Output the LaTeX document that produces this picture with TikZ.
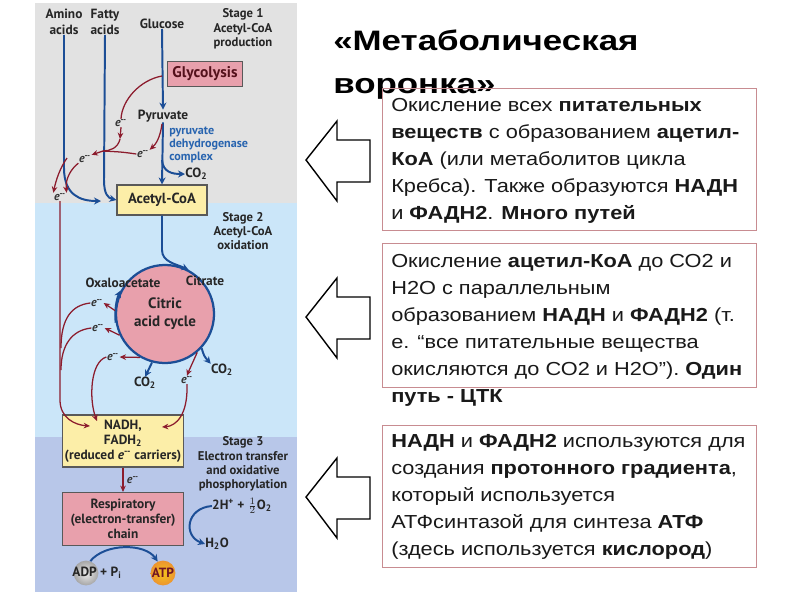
\documentclass[tikz,border=0pt]{standalone}
\usepackage{fontspec}
\setmainfont{Liberation Sans}
\newfontfamily\rfont[FakeStretch=1.155]{Liberation Sans}
\newfontfamily\tfont[FakeStretch=1.24]{Liberation Sans}
\newfontfamily\pfont{PT Sans}
\usetikzlibrary{arrows.meta,shadings}
\definecolor{stgray}{RGB}{226,226,226}
\definecolor{stblue}{RGB}{203,230,249}
\definecolor{stlav}{RGB}{184,199,233}
\definecolor{arblue}{RGB}{28,78,150}
\definecolor{arred}{RGB}{140,28,45}
\definecolor{boxpink}{RGB}{232,160,172}
\definecolor{boxyel}{RGB}{252,238,168}
\definecolor{txblue}{RGB}{40,100,175}
\definecolor{framered}{RGB}{200,140,145}
\definecolor{atporange}{RGB}{236,148,48}
\newcommand{\elec}{\textit{e}\textsuperscript{--}}
\begin{document}
\begin{tikzpicture}[x=0.025cm, y=-0.025cm,
    pnl/.style={font=\pfont\bfseries\fontsize{9.5}{11}\selectfont, text=black!85, align=center, inner sep=0pt},
    stg/.style={font=\pfont\bfseries\fontsize{9}{10.2}\selectfont, text=black!85, align=center, inner sep=0pt},
    elab/.style={font=\pfont\bfseries\fontsize{8.5}{9}\selectfont, text=black!80, inner sep=0.3pt},
    pbox/.style={draw=black!65, line width=0.8pt, fill=boxpink, align=center, inner sep=0pt, text=black!85,
                 font=\pfont\bfseries\fontsize{9.5}{10.8}\selectfont},
    ybox/.style={pbox, fill=boxyel},
    bl/.style={draw=arblue, line width=1.4pt, -{Stealth[length=5pt,width=5pt]}},
    rd/.style={draw=arred, line width=0.9pt, -{Stealth[length=4.5pt,width=4pt]}},
    hollow/.style={draw=black, line width=1pt, fill=white},
    infobox/.style={draw=framered, line width=0.6pt},
    rtext/.style={font=\rfont\fontsize{13.4}{19.2}\selectfont, align=left, inner sep=0pt, anchor=north west, text=black!90},
]
  \useasboundingbox (0,0) rectangle (800,600);
  \fill[white] (0,0) rectangle (800,600);

  % stage bands
  \fill[stgray] (35,3)   rectangle (297,203);
  \fill[stblue] (35,203) rectangle (297,437);
  \fill[stlav]  (35,437) rectangle (297,592);

  % stage 1
  \node[pnl] (amino)   at (64,22)  {Amino\\acids};
  \node[pnl] (fatty)   at (105,22) {Fatty\\acids};
  \node[pnl] (glucose) at (162,24) {Glucose};
  \node[stg] (stage1)  at (243,29) {Stage 1\\Acetyl-CoA\\production};
  \node[pbox, minimum width=1.875cm, minimum height=0.625cm, font=\pfont\bfseries\fontsize{11}{12}\selectfont,
        text=arred!60!black] (glyco) at (205,74) {Glycolysis};
  \node[pnl] (pyruvate) at (163,116) {Pyruvate};
  \node[pnl, anchor=west, align=left, text=txblue, font=\pfont\bfseries\fontsize{8.6}{9.3}\selectfont]
       (pdh) at (169,145) {pyruvate\\dehydrogenase\\complex};
  \node[pnl, anchor=west] (co2a) at (185,174) {CO\textsubscript{2}};
  \node[ybox, minimum width=2.25cm, minimum height=0.75cm, font=\pfont\bfseries\fontsize{10.4}{12}\selectfont]
       (acetyl) at (162,200) {Acetyl-CoA};

  \coordinate (g1) at (162,76);
  \coordinate (p1) at (162,124);
  \coordinate (p2) at (162,160);
  \coordinate (j1) at (103,151);
  \coordinate (a1) at (67,158);
  \coordinate (c1) at (101,201);
  \coordinate (e1t) at (120,139);

  \draw[bl] (amino.south) -- (64,168) .. controls (64,195) and (80,201) .. (c1);
  \draw[bl] (fatty.south) -- (104,180) .. controls (104,194) and (108,198) .. (acetyl.west);
  \draw[bl] (glucose.south) -- (pyruvate.north);
  \draw[bl] (pyruvate.south) -- (acetyl.north);
  \draw[bl] (p2) .. controls (163,172) and (172,174) .. (co2a.west);

  \node[elab] (e1) at (121,123) {\elec};
  \node[elab] (e2) at (143,154) {\elec};
  \node[elab] (e3) at (85,159)  {\elec};
  \node[elab] (e4) at (60,197)  {\elec};

  \draw[rd, -] (g1) .. controls (140,80) and (122,100) .. (e1.north);
  \draw[rd] (e1.south) -- (e1t);
  \draw[rd, -] (e1t) .. controls (118,148) and (110,151) .. (j1);
  \draw[rd] (p1) .. controls (160,138) and (156,144) .. (e2.north east);
  \draw[rd, -] (e2.west) .. controls (122,152) .. (j1);
  \draw[rd] (j1) -- (e3.north east);
  \draw[rd] (e3.south west) .. controls (72,168) and (65,178) .. (e4.north east);
  \draw[rd] (a1) .. controls (60,168) and (56,180) .. (e4.north west);

  % stage 2
  \node[stg] (stage2) at (243,231) {Stage 2\\Acetyl-CoA\\oxidation};
  \node[ybox, minimum width=3.025cm, minimum height=1.3cm] (nadh) at (123,441)
       {NADH,\\FADH\textsubscript{2}\\(reduced \elec{} carriers)};
  \node[circle, draw=arblue, line width=1.6pt, fill=boxpink, minimum size=2.45cm, inner sep=0pt, align=center,
        text=black!85, font=\pfont\bfseries\fontsize{10.7}{13}\selectfont] (cac) at (165,314) {Citric\\acid cycle};
  \node[pnl] (oxalo) at (123,283) {Oxaloacetate};
  \node[pnl] (citrate) at (205,281) {Citrate};

  \draw[bl] (acetyl.south) -- (162,250) .. controls (162,262) and (176,264) .. (cac.62);
  \draw[bl] (cac.190) .. controls (114.5,310) and (116.5,299) .. (cac.152);

  \node[elab] (ea) at (97,303)  {\elec};
  \node[elab] (eb) at (98,328)  {\elec};
  \node[elab] (ec) at (113,357) {\elec};
  \node[elab] (ed) at (187,380) {\elec};
  \node[pnl] (co2b) at (145,383) {CO\textsubscript{2}};
  \node[pnl] (co2c) at (222,370) {CO\textsubscript{2}};

  \coordinate (n1) at (90,426);
  \coordinate (n2) at (97,421);
  \coordinate (n3) at (162,427);

  \draw[rd] (cac.176) -- (ea.east);
  \draw[rd] (cac.205) -- (eb.east);
  \draw[rd] (cac.240) -- (ec.east);
  \draw[rd] (cac.-50) .. controls (192,362) .. (ed.north);
  \draw[bl] (cac.-105) .. controls (150,367) .. (co2b.north);
  \draw[bl] (cac.-43) .. controls (204,356) .. (co2c.north west);

  \draw[rd] (e4.south) -- (60,400) .. controls (60,418) and (75,425) .. (n1);
  \draw[rd, -] (ea.west) .. controls (72,305) and (61,318) .. (61,348);
  \draw[rd, -] (eb.west) .. controls (72,330) and (61,345) .. (61,370);
  \draw[rd] (ec.west) .. controls (90,362) and (89,400) .. (n2);
  \draw[rd] (ed.south) .. controls (188,415) and (176,426) .. (n3);

  % stage 3
  \node[stg] (stage3) at (243,464) {Stage 3\\Electron transfer\\and oxidative\\phosphorylation};
  \node[pbox, minimum width=3.025cm, minimum height=1.325cm] (resp) at (123,519)
       {Respiratory\\(electron-transfer)\\chain};
  \draw[rd] (nadh.south) -- node[elab, right=2pt] (e5) {\elec} (resp.north);

  \node[pnl] (o2) at (242,506) {2H\textsuperscript{+} + $\frac{1}{2}$O\textsubscript{2}};
  \node[pnl, anchor=west] (h2o) at (205,544) {H\textsubscript{2}O};
  \draw[bl] (o2.west) .. controls (186,508) and (183,536) .. (h2o.west);

  \node[circle, inner color=gray!15, outer color=gray!70, minimum size=0.62cm, inner sep=0pt] (adp) at (86,573) {};
  \node[pnl] (adptext) at (97,573) {ADP + P\textsubscript{i}};
  \node[circle, inner color=atporange!55!yellow, outer color=atporange, minimum size=0.62cm, inner sep=0pt, pnl,
        text=arred!80!black] (atp) at (163,573) {ATP};
  \draw[bl] (adp.70) .. controls (105,543) and (145,543) .. (atp.115);

  % right side
  \node[anchor=base west, inner sep=0pt, font=\tfont\bfseries\fontsize{20}{24}\selectfont] (title1) at (333,50) {«Метаболическая};
  \node[anchor=base west, inner sep=0pt, font=\tfont\bfseries\fontsize{20}{24}\selectfont] (title2) at (333,93) {воронка»};

  \foreach \y in {160,317,497}
    \draw[hollow] (306,\y) -- ++(31,-39) -- ++(0,19) -- ++(33,0) -- ++(0,42) -- ++(-33,0) -- ++(0,19) -- cycle;

  \draw[infobox] (382,88)  rectangle (756,230);
  \draw[infobox] (382,243) rectangle (756,387);
  \draw[infobox] (382,425) rectangle (756,567);

  \node[rtext] (info1) at (391,98) {Окисление всех \textbf{питательных}\\
    \textbf{веществ} с образованием \textbf{ацетил-}\\
    \textbf{КоА} (или метаболитов цикла\\
    Кребса). Также образуются \textbf{НАДН}\\
    и \textbf{ФАДН2}. \textbf{Много путей}};
  \node[rtext] (info2) at (391,254) {Окисление \textbf{ацетил-КоА} до СО2 и\\
    Н2О с параллельным\\
    образованием \textbf{НАДН} и \textbf{ФАДН2} (т.\\
    е. “все питательные вещества\\
    окисляются до СО2 и Н2О”). \textbf{Один}\\
    \textbf{путь - ЦТК}};
  \node[rtext] (info3) at (391,434) {\textbf{НАДН} и \textbf{ФАДН2} используются для\\
    создания \textbf{протонного градиента},\\
    который используется\\
    АТФсинтазой для синтеза \textbf{АТФ}\\
    (здесь используется \textbf{кислород})};
\end{tikzpicture}
\end{document}
